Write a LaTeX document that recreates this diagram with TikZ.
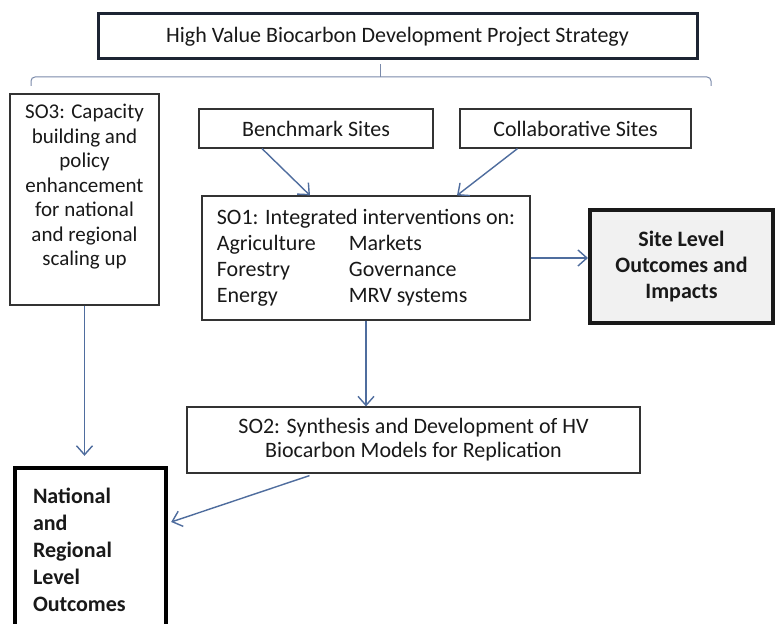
\documentclass[tikz,border=0pt]{standalone}
\usepackage{fontspec}
\setmainfont{Carlito}
\usetikzlibrary{arrows.meta,calc}
\definecolor{navyline}{HTML}{1D2433}
\definecolor{arrowblue}{HTML}{4F6D9E}
\definecolor{bracegray}{HTML}{7A8AAA}
\definecolor{sitegray}{HTML}{F1F1F1}

\begin{document}
\begin{tikzpicture}[x=0.5pt,y=-0.5pt,
  box/.style={draw=black!80,line width=0.6pt,inner sep=0pt,text=black!90,font=\fontsize{11}{13}\selectfont},
  flow/.style={draw=arrowblue,line width=0.7pt,-{Straight Barb[length=4.5pt,width=8pt]}},
  bracket/.style={draw=bracegray,line width=0.5pt,rounded corners=2pt}]
\useasboundingbox (0,0) rectangle (777,624);
\clip (0,0) rectangle (777,624);
\fill[white] (0,0) rectangle (777,624);
\node[box,draw=navyline,line width=1.5pt,minimum width=299.5pt,minimum height=22.5pt] (strategy) at (397.5,36.5) {High Value Biocarbon Development Project Strategy};
\draw[bracket] (31,86) -- (31,77) -- (711,77) -- (711,86);
\draw[bracket] (380,77) -- (380,64);
\node[box,minimum width=74.5pt,minimum height=105.5pt] (so3) at (84.5,199.5) {\parbox[c][95pt][t]{72pt}{\centering\fontsize{10.5}{12.25}\selectfont SO3: Capacity\\ building and\\ policy\\ enhancement\\ for national\\ and regional\\ scaling up}};
\node[box,minimum width=117pt,minimum height=19.5pt] (bench) at (316,128.5) {Benchmark Sites};
\node[box,minimum width=115.5pt,minimum height=19.5pt] (collab) at (575.5,128.5) {Collaborative Sites};
\node[box,minimum width=164pt,minimum height=62pt] (so1) at (366,258) {\begin{tabular}{@{}p{66pt}@{}l@{}}
  \multicolumn{2}{@{}l@{}}{SO1: Integrated interventions on:}\\
  Agriculture & Markets\\
  Forestry & Governance\\
  Energy & MRV systems
\end{tabular}};
\node[box,draw=black!90,line width=2pt,fill=sitegray,minimum width=91.5pt,minimum height=56.5pt,align=center,font=\bfseries\fontsize{11}{13}\selectfont] (site) at (681.5,266.5) {Site Level\\ Outcomes and\\ Impacts};
\node[box,minimum width=226.5pt,minimum height=33pt,align=center,font=\fontsize{11}{12}\selectfont] (so2) at (413.5,440) {SO2: Synthesis and Development of HV\\ Biocarbon Models for Replication};
\node[box,draw=black,line width=2.2pt,minimum width=75.5pt,minimum height=82pt,text width=57.5pt,align=left,font=\bfseries\fontsize{11}{13.5}\selectfont] (nat) at (90.5,550) {National\\ and\\ Regional\\ Level\\ Outcomes};
\draw[flow] ([xshift=-27pt]bench.south) -- ([xshift=-28pt]so1.north);
\draw[flow] ([xshift=-29pt]collab.south) -- ([xshift=45.5pt]so1.north);
\draw[flow] (so1.south) -- (so1.south |- so2.north);
\draw[flow] (so1.east) -- (so1.east -| site.west);
\draw[flow,shorten >=5pt] (so3.south) -- (so3.south |- nat.north);
\draw[flow] ([xshift=-52pt,yshift=-1pt]so2.south) -- ([xshift=1.5pt,yshift=14pt]nat.east);
\end{tikzpicture}
\end{document}
